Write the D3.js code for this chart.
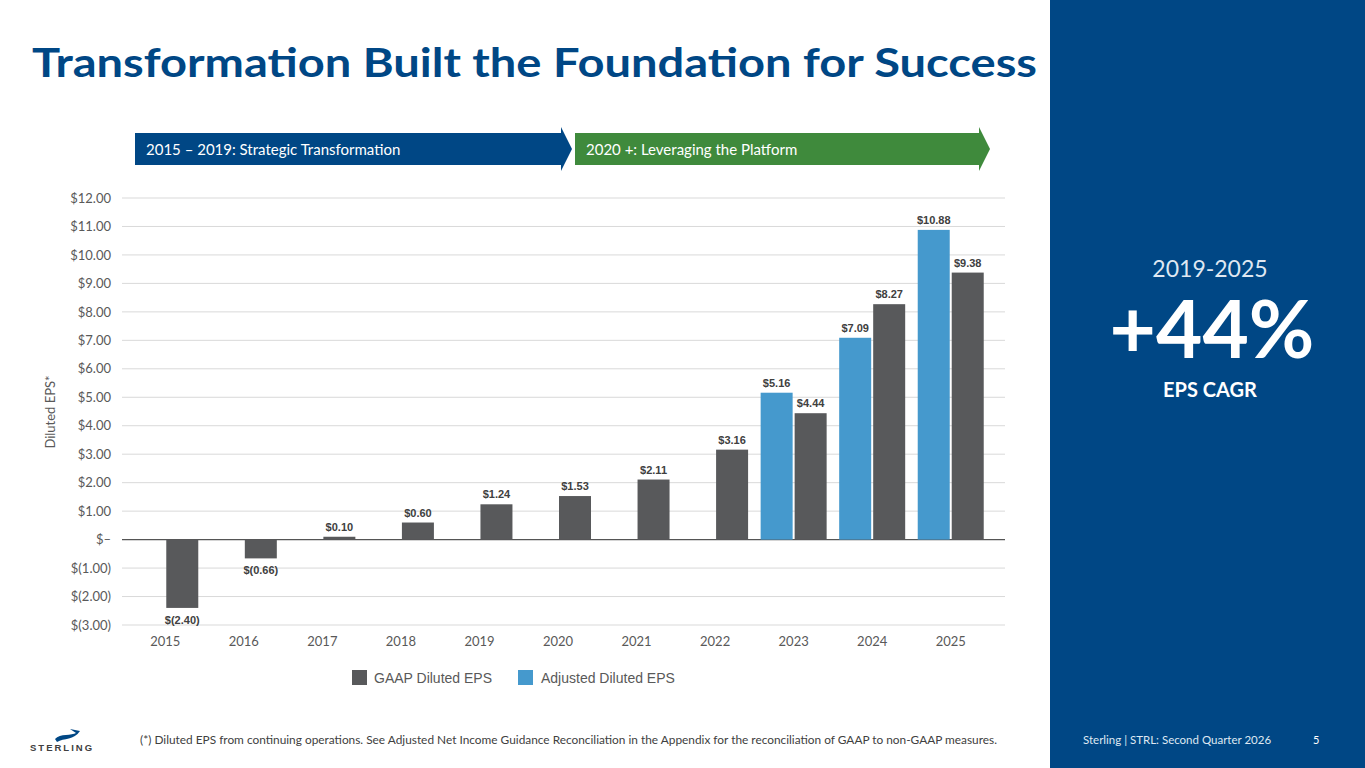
<!DOCTYPE html>
<html><head><meta charset="utf-8">
<script src="https://cdn.jsdelivr.net/npm/d3@7"></script>
<style>body{margin:0;background:#fff;}svg{display:block;font-family:Lato,"Open Sans",sans-serif;}</style>
</head><body>
<script>
const years = ['2015','2016','2017','2018','2019','2020','2021','2022','2023','2024','2025'];
const gaap = [-2.40, -0.66, 0.10, 0.60, 1.24, 1.53, 2.11, 3.16, 4.44, 8.27, 9.38];
const adjusted = [null, null, null, null, null, null, null, null, 5.16, 7.09, 10.88];
const yTicks = [-3,-2,-1,0,1,2,3,4,5,6,7,8,9,10,11,12];

const fmt = v => v === 0 ? '$\u2013' : v < 0 ? '$(' + Math.abs(v).toFixed(2) + ')' : '$' + v.toFixed(2);

const svg = d3.select('body').append('svg').attr('width', 1365).attr('height', 768);

svg.append('rect').attr('x', 1050).attr('y', 0).attr('width', 315).attr('height', 768).attr('fill', '#004785');

svg.append('text').attr('x', 32).attr('y', 77).attr('fill', '#004785')
    .attr('font-size', 41).attr('font-weight', 700).attr('textLength', 1005).attr('lengthAdjust', 'spacingAndGlyphs')
    .text('Transformation Built the Foundation for Success');

// phase arrows
function arrow(x0, x1, color, label) {
    svg.append('path')
        .attr('d', `M${x0},133 L${x1},133 L${x1},127 L${x1 + 11},149 L${x1},171 L${x1},165 L${x0},165 Z`)
        .attr('fill', color);
    svg.append('text').attr('x', x0 + 11).attr('y', 155).attr('fill', '#fff').attr('font-size', 15).text(label);
}
arrow(135, 561, '#004785', '2015 \u2013 2019: Strategic Transformation');
arrow(575, 979, '#3f8a3c', '2020 +: Leveraging the Platform');

const x = d3.scaleBand().domain(years).range([126, 990]).padding(0);
const y = d3.scaleLinear().domain([-3, 12]).range([625, 198]);

const g = svg.append('g');
g.selectAll('line.grid').data(yTicks).join('line')
    .attr('x1', 122).attr('x2', 1005).attr('y1', d => y(d)).attr('y2', d => y(d))
    .attr('stroke', d => d === 0 ? '#555' : '#d9d9d9').attr('stroke-width', d => d === 0 ? 1.2 : 1);

const yAxis = d3.axisLeft(y).tickValues(yTicks).tickFormat(fmt).tickSize(0).tickPadding(0);
svg.append('g').attr('transform', 'translate(111,0)').call(yAxis)
    .call(a => a.select('.domain').remove())
    .selectAll('text').attr('font-size', 13).attr('fill', '#595959').attr('font-family', 'Lato,sans-serif');

const xAxis = d3.axisBottom(x).tickSize(0).tickPadding(0);
svg.append('g').attr('transform', 'translate(0,637)').call(xAxis)
    .call(a => a.select('.domain').remove())
    .selectAll('text').attr('font-size', 13).attr('fill', '#595959').attr('font-family', 'Lato,sans-serif');

svg.append('text').attr('transform', 'translate(55,412) rotate(-90)').attr('text-anchor', 'middle')
    .attr('fill', '#595959').attr('font-size', 13).text('Diluted EPS*');

const bw = 32;
const rows = years.map((yr, i) => ({yr, g: gaap[i], a: adjusted[i]}));
const cx = d => x(d.yr) + x.bandwidth() / 2;
const gx = d => cx(d) + 1;
const ax = d => cx(d) - bw - 1;

function bars(data, val, xf, color) {
    g.selectAll(null).data(data).join('rect')
        .attr('x', xf).attr('width', bw)
        .attr('y', d => y(Math.max(0, val(d)))).attr('height', d => Math.abs(y(val(d)) - y(0)))
        .attr('fill', color);
    g.selectAll(null).data(data).join('text')
        .attr('x', d => xf(d) + bw / 2)
        .attr('y', d => val(d) < 0 ? y(val(d)) + 16 : y(val(d)) - 6)
        .attr('text-anchor', 'middle').attr('font-size', 11).attr('font-weight', 700)
        .attr('font-family', 'Arial,"Liberation Sans",sans-serif').attr('fill', '#404040')
        .text(d => fmt(val(d)));
}
bars(rows, d => d.g, gx, '#58595b');
bars(rows.filter(d => d.a != null), d => d.a, ax, '#4599cd');

// legend
const lg = svg.append('g').attr('font-family', 'Arial,"Liberation Sans",sans-serif').attr('font-size', 14).attr('fill', '#595959');
lg.append('rect').attr('x', 352).attr('y', 670).attr('width', 15).attr('height', 15).attr('fill', '#58595b');
lg.append('text').attr('x', 374).attr('y', 683).text('GAAP Diluted EPS');
lg.append('rect').attr('x', 518).attr('y', 670).attr('width', 15).attr('height', 15).attr('fill', '#4599cd');
lg.append('text').attr('x', 541).attr('y', 683).text('Adjusted Diluted EPS');

// right panel
svg.append('text').attr('x', 1210).attr('y', 277).attr('text-anchor', 'middle').attr('fill', '#dfe8f2')
    .attr('font-size', 23).text('2019-2025');
svg.append('text').attr('x', 1212).attr('y', 358).attr('text-anchor', 'middle').attr('fill', '#fff')
    .attr('font-size', 80).attr('font-weight', 700).text('+44%');
svg.append('text').attr('x', 1210).attr('y', 397).attr('text-anchor', 'middle').attr('fill', '#fff')
    .attr('font-size', 20).attr('font-weight', 700).text('EPS CAGR');

// footer
svg.append('text').attr('x', 140).attr('y', 744).attr('fill', '#404040').attr('font-size', 11.5)
    .attr('textLength', 857).attr('lengthAdjust', 'spacingAndGlyphs')
    .text('(*) Diluted EPS from continuing operations. See Adjusted Net Income Guidance Reconciliation in the Appendix for the reconciliation of GAAP to non-GAAP measures.');
svg.append('text').attr('x', 1083).attr('y', 744).attr('fill', '#dfe8f2').attr('font-size', 11.5).text('Sterling | STRL:  Second Quarter 2026');
svg.append('text').attr('x', 1313).attr('y', 744).attr('fill', '#fff').attr('font-size', 11).text('5');
svg.append('path').attr('d', 'M55,739 C60,733 72,736 76,733 L70,729 L80,731 C74,740 64,738 57,742 Z').attr('fill', '#004785');
svg.append('text').attr('x', 30).attr('y', 751).attr('fill', '#404040').attr('font-size', 9.5).attr('font-weight', 700)
    .attr('letter-spacing', 2).attr('font-family', 'Arial,sans-serif').text('STERLING');
</script>
</body></html>
